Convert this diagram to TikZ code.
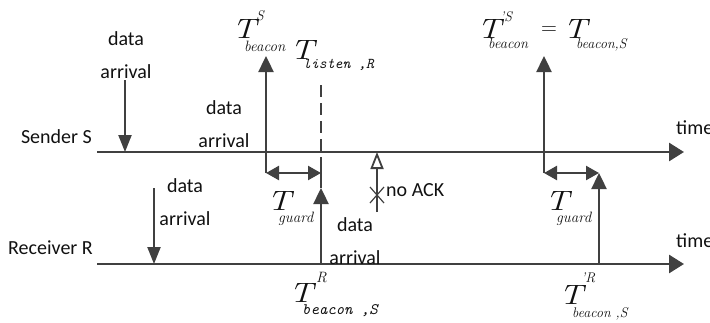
\documentclass[tikz,border=0pt]{standalone}
\usepackage{fontspec}
\usepackage{graphicx}
\newfontfamily\calfont{Carlito}
\usetikzlibrary{arrows.meta}
\definecolor{ln}{HTML}{404040}
\definecolor{tx}{HTML}{111111}
\newcommand{\wideT}{\scalebox{1.22}[1]{T}}
\tikzset{
  axisline/.style={draw=ln, line width=2.8pt, -{Triangle[length=15pt,width=18pt]}},
  vline/.style={draw=ln, line width=2.4pt},
  varrow/.style={vline, -{Triangle[length=16pt,width=15pt]}},
  darrow/.style={draw=ln, line width=2.2pt, -{Triangle[length=17pt,width=13pt]}},
  garrow/.style={draw=ln, line width=2.4pt, {Triangle[length=13pt,width=14pt]}-{Triangle[length=13pt,width=14pt]}},
  dashline/.style={vline, dash pattern=on 12pt off 6pt},
  lab/.style={font=\calfont\fontsize{20}{33}\selectfont, text=tx, inner sep=0pt, align=center},
  bigT/.style={font=\fontsize{28}{28}\selectfont\itshape, text=tx, inner sep=0pt, anchor=base west},
  supT/.style={font=\fontsize{14}{14}\selectfont\itshape, text=tx, inner sep=0pt, anchor=base west},
  subT/.style={font=\fontsize{15}{15}\selectfont\itshape, text=tx, inner sep=0pt, anchor=base west},
  subTT/.style={font=\fontsize{15}{15}\selectfont\ttfamily\itshape, text=tx, inner sep=0pt, anchor=base west},
}
\begin{document}
\begin{tikzpicture}[x=1pt,y=-1pt]
\useasboundingbox (0,0) rectangle (710,322);
% axes
\coordinate (s0) at (97,152); \coordinate (s1) at (684,152);
\coordinate (r0) at (97,264); \coordinate (r1) at (684,264);
\draw[axisline] (s0) -- (s1);
\draw[axisline] (r0) -- (r1);
\node[lab, anchor=east] (sender) at (92,137) {Sender S};
\node[lab, anchor=east] (receiver) at (93,248) {Receiver R};
\node[lab, anchor=west] (time1) at (676,128) {time};
\node[lab, anchor=west] (time2) at (676,241) {time};
% data arrivals
\node[lab] (da1) at (126,55) {data\\arrival};
\node[lab] (da2) at (224,124) {data\\arrival};
\node[lab] (da3) at (185,202) {data\\arrival};
\node[lab] (da4) at (355,241) {data\\arrival};
\coordinate (a1t) at (125,80); \coordinate (a1b) at (125,152);
\draw[darrow] (a1t) -- (a1b);
\coordinate (a3t) at (154,188); \coordinate (a3b) at (154,264);
\draw[darrow] (a3t) -- (a3b);
% first beacon
\coordinate (b1g) at (266,173); \coordinate (b1t) at (266,56);
\draw[varrow] (b1g) -- (b1t);
\coordinate (l1t) at (321,85); \coordinate (l1m) at (321,160);
\coordinate (g1r) at (321,173); \coordinate (u1t) at (321,188); \coordinate (u1b) at (321,264);
\draw[dashline] (l1t) -- (l1m);
\draw[vline] (l1m) -- (u1t);
\draw[varrow] (u1b) -- (u1t);
\draw[garrow] (b1g) -- (g1r);
% no ACK
\coordinate (nb) at (377,212); \coordinate (nt) at (377,152); \coordinate (nx) at (377,195);
\draw[draw=ln, line width=1.8pt, -{Triangle[open,length=17pt,width=13pt]}] (nb) -- (nt);
\draw[draw=ln, line width=1.2pt] ([shift={(-7,-8)}]nx) -- ([shift={(7,8)}]nx);
\draw[draw=ln, line width=1.2pt] ([shift={(-7,8)}]nx) -- ([shift={(7,-8)}]nx);
\node[lab, anchor=west] (noack) at (386,190) {no ACK};
% second beacon
\coordinate (b2g) at (544,173); \coordinate (b2t) at (544,56);
\draw[varrow] (b2g) -- (b2t);
\coordinate (g2r) at (599,173); \coordinate (u2b) at (599,264);
\draw[varrow] (u2b) -- (g2r);
\draw[garrow] (b2g) -- (g2r);
% labels: T^S_beacon
\node[bigT] (t1) at (232,38) {\wideT};
\node[supT] (t1s) at (256,20) {S};
\node[subT] (t1b) at (244,51) {beacon};
% T_listen,R
\node[bigT] (t2) at (290,59) {\wideT};
\node[subTT] (t2b) at (303,68) {listen ,R};
% T'^S_beacon = T_beacon,S
\node[bigT] (t3) at (477,38) {\wideT};
\node[supT] (t3s) at (500,21) {'S};
\node[subT, font=\fontsize{14.5}{14.5}\selectfont\itshape] (t3b) at (488,48) {beacon};
\node[text=tx, inner sep=0pt, font=\fontsize{22}{22}\selectfont] (eq) at (549,31) {=};
\node[bigT] (t4) at (563,38) {\wideT};
\node[subT, font=\fontsize{14}{14}\selectfont\itshape] (t4b) at (576,48) {beacon,S};
% T_guard
\node[bigT] (t5) at (267,210) {\wideT};
\node[subT] (t5b) at (278,222) {guard};
\node[bigT] (t6) at (545,210) {\wideT};
\node[subT] (t6b) at (556,222) {guard};
% T^R_beacon,S
\node[bigT] (t7) at (289,302) {\wideT};
\node[supT, font=\fontsize{15}{15}\selectfont\itshape] (t7s) at (316,282) {R};
\node[subTT, font=\fontsize{16}{16}\selectfont\ttfamily\itshape] (t7b) at (302,314) {beacon ,S};
% T'^R_beacon,S
\node[bigT] (t8) at (559,304) {\wideT};
\node[supT] (t8s) at (581,282) {'R};
\node[subT, font=\fontsize{14}{14}\selectfont\itshape] (t8b) at (572,317) {beacon ,S};
\end{tikzpicture}
\end{document}
